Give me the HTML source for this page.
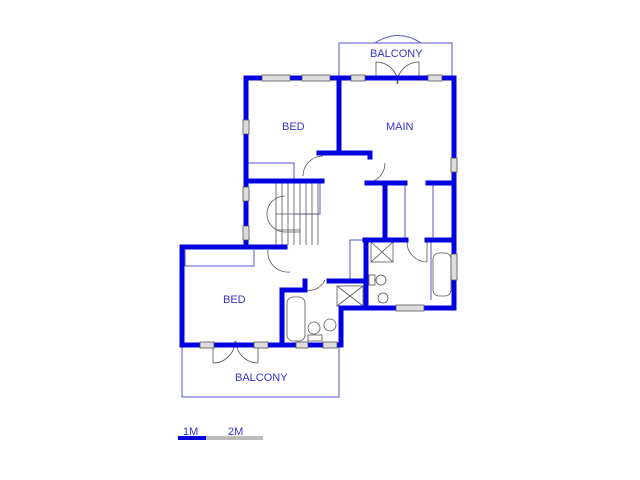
<!DOCTYPE html><html><head><style>body{margin:0;background:#fff}svg{display:block}text{font-family:"Liberation Sans",sans-serif;fill:#3333cc;font-size:11px}</style></head><body>
<svg width="640" height="480" viewBox="0 0 640 480">
<g fill="none" stroke="#5555cc" stroke-width="1">
<path d="M339 78V43H452V78"/><path d="M375 43Q398 28 421 43"/>
<path d="M182 345V397H339V345"/>
<path d="M248 181V163H294V181"/>
<path d="M185 250V266H254V250"/>
<path d="M320 183V214H294"/>
<path d="M350 281V240H365"/>
<path d="M405 185V240M433 185V240M431 240V300"/>
</g>
<g fill="none" stroke="#555" stroke-width="0.8">
<path d="M276 183V245M282 183V245M288 183V245M294 183V245M300 183V245M306 183V245M312 183V245M318 183V245"/>
<path d="M276 214H318M276 230H300"/>
<path d="M285 196A18 18 0 0 0 285 232H300"/>
<path d="M303 176A20 20 0 0 1 323 156"/>
<path d="M385 163A20 20 0 0 1 365 183"/>
<path d="M376 80V62M376 62A22 22 0 0 1 398 84M419 80V62M419 62A22 22 0 0 0 397 84"/>
<path d="M213 345V363M213 363A22 22 0 0 0 235 341M258 345V363M258 363A22 22 0 0 1 236 341"/>
<path d="M268 250A20 20 0 0 0 290 272M305 290A18 18 0 0 0 325 280M407 242A20 20 0 0 0 427 262M427 240V262"/>
<rect x="287" y="297" width="18" height="44" rx="6"/>
<rect x="433" y="253" width="18" height="43" rx="6"/>
<rect x="337" y="286" width="26" height="20"/><path d="M337 286L363 306M363 286L337 306"/>
<rect x="371" y="242" width="22" height="20"/><path d="M371 242L393 262M393 242L371 262"/>
<circle cx="314" cy="328" r="6"/><rect x="308" y="335" width="14" height="6"/>
<circle cx="381" cy="280" r="5"/><rect x="369" y="275" width="6" height="10"/>
<circle cx="383" cy="298" r="5"/><circle cx="330" cy="325" r="6"/>
</g>
<g fill="none" stroke="#0000e0" stroke-width="5" stroke-linecap="square">
<path d="M246 78H454V308H366V240"/>
<path d="M246 78V247"/>
<path d="M339 78V153M319 153H370V157"/>
<path d="M367 183H405M428 183H454"/>
<path d="M385 183V240M365 240H406M427 240H454"/>
<path d="M246 181H322"/>
<path d="M182 247H285M182 247V345H341V308H366V281H329"/>
<path d="M282 290V345M282 290H305V281"/>
</g>
<g fill="#ddd" stroke="#555" stroke-width="0.8">
<rect x="262" y="75" width="28" height="6"/><rect x="302" y="75" width="28" height="6"/><rect x="351" y="75" width="14" height="6"/><rect x="428" y="75" width="14" height="6"/>
<rect x="243" y="120" width="6" height="14"/><rect x="243" y="187" width="6" height="14"/><rect x="243" y="226" width="6" height="14"/>
<rect x="451" y="158" width="6" height="14"/><rect x="451" y="254" width="6" height="26"/>
<rect x="396" y="305" width="28" height="6"/>
<rect x="200" y="342" width="14" height="6"/><rect x="254" y="342" width="14" height="6"/><rect x="296" y="342" width="12" height="6"/><rect x="323" y="342" width="14" height="6"/>
</g>
<text x="282" y="130">BED</text><text x="386" y="130">MAIN</text><text x="370" y="57">BALCONY</text>
<text x="223" y="303">BED</text><text x="235" y="381">BALCONY</text>
<text x="183" y="435">1M</text><text x="228" y="435">2M</text>
<rect x="178" y="436" width="28" height="4" fill="#0000e0"/><rect x="206" y="436" width="57" height="4" fill="#bbb"/>
</svg></body></html>
